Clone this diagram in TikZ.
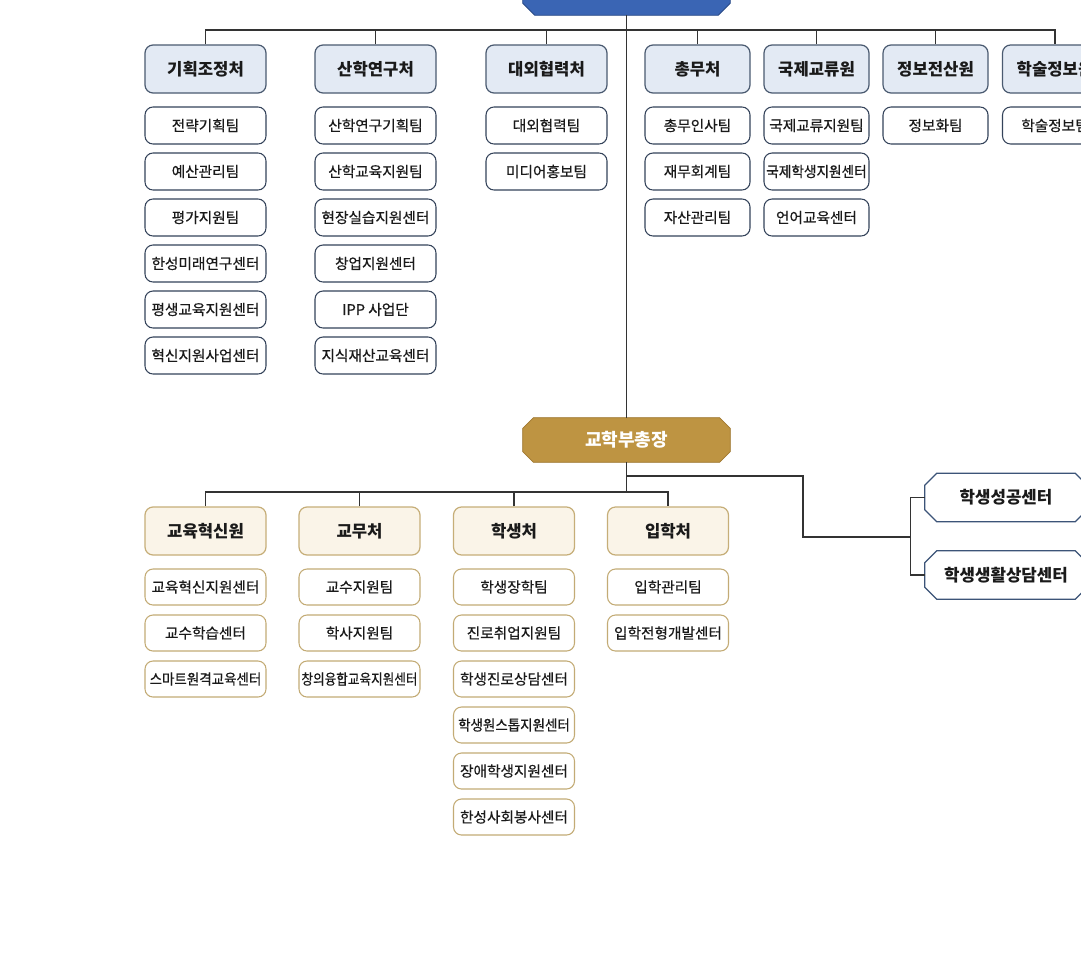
\documentclass[tikz,border=0pt]{standalone}
\usepackage{fontspec}
\usepackage{graphicx}
\setmainfont{Noto Sans CJK KR}
\newfontfamily\medfont[FakeBold=0.5]{Noto Sans CJK KR}
\usetikzlibrary{backgrounds}
\definecolor{topblue}{HTML}{3A65B4}
\definecolor{goldf}{HTML}{BE9442}
\definecolor{goldd}{HTML}{A27A32}
\definecolor{hbf}{HTML}{E3EAF4}
\definecolor{hbd}{HTML}{4A5A70}
\definecolor{sbd}{HTML}{34435A}
\definecolor{hgf}{HTML}{FAF4E8}
\definecolor{hgd}{HTML}{C6AE78}
\definecolor{sgd}{HTML}{C3AB75}
\definecolor{rbd}{HTML}{3C5478}
\definecolor{conncol}{HTML}{333333}
\definecolor{txt}{HTML}{1A1A1A}
\newcommand{\cnd}[2]{\scalebox{#1}[1]{#2}}
\newcommand{\octo}[3]{%
  \path[#3] ([xshift=#2]#1.north west) -- ([xshift=-#2]#1.north east) -- ([yshift=-#2]#1.north east)
   -- ([yshift=#2]#1.south east) -- ([xshift=-#2]#1.south east) -- ([xshift=#2]#1.south west)
   -- ([yshift=#2]#1.south west) -- ([yshift=-#2]#1.north west) -- cycle;}
\begin{document}
\begin{tikzpicture}[x=0.75pt,y=-0.75pt,
  base/.style={rectangle,rounded corners=6pt,inner sep=0pt,align=center,text=txt},
  wide/.style={minimum width=90.75pt},
  narrow/.style={minimum width=78.75pt},
  hb/.style={base,draw=hbd,fill=hbf,line width=0.9pt,minimum height=36pt,font=\fontsize{12.5}{14}\selectfont\bfseries},
  sb/.style={base,draw=sbd,fill=white,line width=0.8pt,minimum height=27.75pt,font=\fontsize{11}{13}\medfont},
  hg/.style={base,draw=hgd,fill=hgf,line width=0.9pt,minimum height=36pt,wide,font=\fontsize{12.5}{14}\selectfont\bfseries},
  sg/.style={base,draw=sgd,fill=white,line width=0.8pt,minimum height=27pt,wide,font=\fontsize{11}{13}\medfont},
  plainbox/.style={rectangle,inner sep=0pt,align=center},
  rbox/.style={plainbox,minimum width=121.5pt,minimum height=36pt,text=txt,font=\fontsize{12.6}{14}\selectfont\bfseries},
  conn/.style={draw=conncol,line width=1pt}]
\clip (0,0) rectangle (1081,960);
% top box
\node[plainbox,minimum width=155.25pt,minimum height=34.5pt] (top) at (626.5,-8) {};
% vice president
\node[plainbox,minimum width=155.25pt,minimum height=33pt,text=white,font=\fontsize{13.5}{15}\selectfont\bfseries] (vp) at (626.5,440) {교학부총장};
% right boxes
\node[rbox] (r1) at (1006,497.5) {학생성공센터};
\node[rbox] (r2) at (1006,575) {학생생활상담센터};
\begin{scope}[on background layer]
  \fill[white] (0,0) rectangle (1081,960);
  \octo{top}{9pt}{fill=topblue,draw=topblue!75!black,line width=0.6pt}
  \octo{vp}{8pt}{fill=black,opacity=0.10,xshift=2.2pt,yshift=-2.2pt}
  \octo{vp}{8pt}{fill=black,opacity=0.15,xshift=1.2pt,yshift=-1.2pt}
  \octo{vp}{8pt}{fill=goldf,draw=goldd,line width=0.6pt}
  \octo{r1}{9pt}{fill=white,draw=rbd,line width=0.9pt}
  \octo{r2}{9pt}{fill=white,draw=rbd,line width=0.9pt}
\end{scope}
% upper headers
\node[hb,wide]   (h1) at (205.5,69) {기획조정처};
\node[hb,wide]   (h2) at (375.5,69) {산학연구처};
\node[hb,wide]   (h3) at (546.5,69) {대외협력처};
\node[hb,narrow] (h4) at (697.5,69) {총무처};
\node[hb,narrow] (h5) at (816.5,69) {국제교류원};
\node[hb,narrow] (h6) at (935.5,69) {정보전산원};
\node[hb,narrow] (h7) at (1055,69) {학술정보원};
% upper sub boxes
\node[sb,wide] (a1) at (205.5,125.5) {전략기획팀};
\node[sb,wide] (a2) at (205.5,171.5) {예산관리팀};
\node[sb,wide] (a3) at (205.5,217.5) {평가지원팀};
\node[sb,wide] (a4) at (205.5,263.5) {한성미래연구센터};
\node[sb,wide] (a5) at (205.5,309.5) {평생교육지원센터};
\node[sb,wide] (a6) at (205.5,355.5) {혁신지원사업센터};
\node[sb,wide] (b1) at (375.5,125.5) {산학연구기획팀};
\node[sb,wide] (b2) at (375.5,171.5) {산학교육지원팀};
\node[sb,wide] (b3) at (375.5,217.5) {현장실습지원센터};
\node[sb,wide] (b4) at (375.5,263.5) {창업지원센터};
\node[sb,wide] (b5) at (375.5,309.5) {IPP 사업단};
\node[sb,wide] (b6) at (375.5,355.5) {지식재산교육센터};
\node[sb,wide] (c1) at (546.5,125.5) {대외협력팀};
\node[sb,wide] (c2) at (546.5,171.5) {미디어홍보팀};
\node[sb,narrow] (d1) at (697.5,125.5) {총무인사팀};
\node[sb,narrow] (d2) at (697.5,171.5) {재무회계팀};
\node[sb,narrow] (d3) at (697.5,217.5) {자산관리팀};
\node[sb,narrow] (e1) at (816.5,125.5) {국제교류지원팀};
\node[sb,narrow] (e2) at (816.5,171.5) {\cnd{0.93}{국제학생지원센터}};
\node[sb,narrow] (e3) at (816.5,217.5) {언어교육센터};
\node[sb,narrow] (f1) at (935.5,125.5) {정보화팀};
\node[sb,narrow] (k1) at (1055,125.5) {학술정보팀};
% lower headers
\node[hg] (g1) at (205.5,531) {교육혁신원};
\node[hg] (g2) at (359.5,531) {교무처};
\node[hg] (g3) at (514,531) {학생처};
\node[hg] (g4) at (668,531) {입학처};
% lower sub boxes
\node[sg] (m1) at (205.5,587) {교육혁신지원센터};
\node[sg] (m2) at (205.5,633) {교수학습센터};
\node[sg] (m3) at (205.5,679) {\cnd{0.92}{스마트원격교육센터}};
\node[sg] (n1) at (359.5,587) {교수지원팀};
\node[sg] (n2) at (359.5,633) {학사지원팀};
\node[sg] (n3) at (359.5,679) {\cnd{0.86}{창의융합교육지원센터}};
\node[sg] (p1) at (514,587) {학생장학팀};
\node[sg] (p2) at (514,633) {진로취업지원팀};
\node[sg] (p3) at (514,679) {학생진로상담센터};
\node[sg] (p4) at (514,725) {\cnd{0.92}{학생원스톱지원센터}};
\node[sg] (p5) at (514,771) {장애학생지원센터};
\node[sg] (p6) at (514,817) {한성사회봉사센터};
\node[sg] (q1) at (668,587) {입학관리팀};
\node[sg] (q2) at (668,633) {입학전형개발센터};
% connectors
\coordinate (bt) at (626.5,30);
\coordinate (bl) at (626.5,492);
\coordinate (br) at (626.5,476);
\coordinate (bk) at (803,537);
\coordinate (bv) at (910.5,537);
\draw[conn] (top.south) -- (vp.north);
\draw[conn] (h1.north) |- (bt) -| (h7.north);
\foreach \h in {h2,h3,h4,h5,h6} \draw[conn] (\h.north) -- (\h.north |- bt);
\draw[conn] (vp.south) -- (bl);
\draw[conn] (g1.north) |- (bl) -| (g4.north);
\foreach \h in {g2,g3} \draw[conn] (\h.north) -- (\h.north |- bl);
\draw[conn] (br) -| (bk) -- (bv);
\draw[conn] (r1.west) -| (bv) |- (r2.west);
\end{tikzpicture}
\end{document}
